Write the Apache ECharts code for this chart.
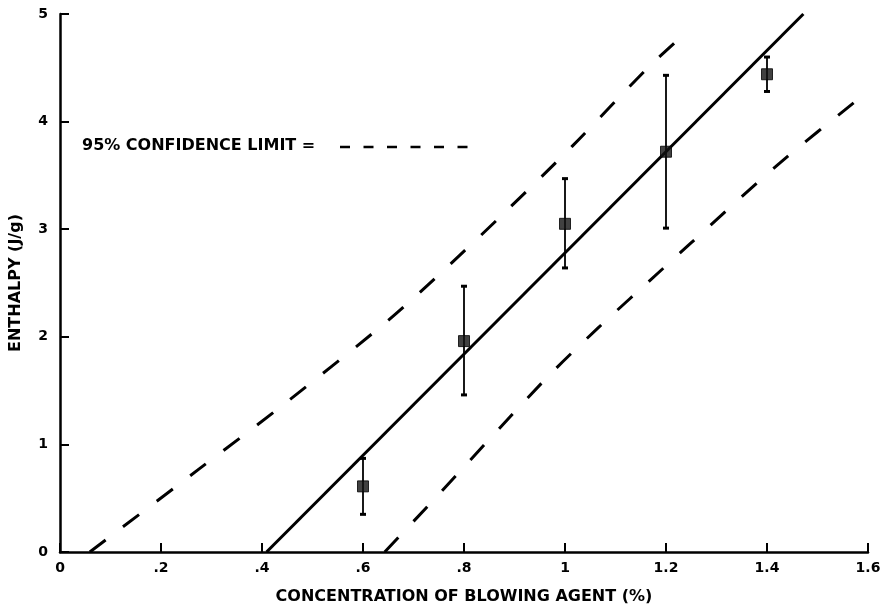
<!DOCTYPE html>
<html>
<head>
<meta charset="utf-8">
<script src="https://cdn.jsdelivr.net/npm/echarts@6/dist/echarts.min.js"></script>
<style>html,body{margin:0;padding:0;background:#fff;}#c{width:885px;height:612px;}</style>
</head>
<body>
<div id="c"></div>
<script>
// ---- data ----
var xTickLabels = ['0', '.2', '.4', '.6', '.8', '1', '1.2', '1.4', '1.6'];
var yTickLabels = ['0', '1', '2', '3', '4', '5'];
var concentration = [0.6, 0.8, 1.0, 1.2, 1.4];
var enthalpy = [0.61, 1.96, 3.05, 3.72, 4.44];
var errLow = [0.35, 1.46, 2.64, 3.01, 4.28];
var errHigh = [0.87, 2.47, 3.47, 4.43, 4.60];
var fitX = [0.409, 1.472];
var fitY = [0, 5];
var upperX = [0.059, 0.275, 0.437, 0.643, 0.742, 0.875, 1.014, 1.163, 1.233];
var upperY = [0, 0.77, 1.35, 2.125, 2.54, 3.13, 3.77, 4.495, 4.80];
var lowerX = [0.643, 0.729, 0.962, 1.065, 1.193, 1.249, 1.424, 1.60];
var lowerY = [0, 0.43, 1.61, 2.08, 2.63, 2.87, 3.61, 4.28];
var legendText = '95% CONFIDENCE LIMIT =';
var xName = 'CONCENTRATION OF BLOWING AGENT (%)';
var yName = 'ENTHALPY (J/g)';

function zip(a, b) { return a.map(function (v, i) { return [v, b[i]]; }); }

var FONT = 'DejaVu Sans';
var chart = echarts.init(document.getElementById('c'), null, { renderer: 'canvas' });
var option = {
  backgroundColor: '#fff',
  animation: false,
  grid: { left: 60, right: 17, top: 14, bottom: 60, containLabel: false },
  xAxis: {
    type: 'value', min: 0, max: 1.6, interval: 0.2,
    name: xName, nameLocation: 'middle', nameGap: 37,
    nameTextStyle: { fontFamily: FONT, fontWeight: 'bold', fontSize: 16, color: '#000' },
    axisLine: { lineStyle: { color: '#000', width: 2.5 } },
    axisTick: { inside: true, length: 9, lineStyle: { color: '#000', width: 2 } },
    axisLabel: {
      margin: 9, color: '#000', fontFamily: FONT, fontWeight: 'bold', fontSize: 14,
      formatter: function (v) { return xTickLabels[Math.round(v / 0.2)]; }
    },
    splitLine: { show: false }
  },
  yAxis: {
    type: 'value', min: 0, max: 5, interval: 1,
    name: yName, nameLocation: 'middle', nameGap: 36, nameRotate: 90,
    nameTextStyle: { fontFamily: FONT, fontWeight: 'bold', fontSize: 16, color: '#000' },
    axisLine: { show: true, lineStyle: { color: '#000', width: 2.5 } },
    axisTick: { show: true, inside: true, length: 9, lineStyle: { color: '#000', width: 2 } },
    axisLabel: {
      margin: 12, color: '#000', fontFamily: FONT, fontWeight: 'bold', fontSize: 14,
      formatter: function (v) { return yTickLabels[Math.round(v)]; }
    },
    splitLine: { show: false }
  },
  series: [
    {
      type: 'line', data: zip(fitX, fitY), symbol: 'none',
      lineStyle: { color: '#000', width: 3 }, z: 3
    },
    {
      type: 'line', data: zip(upperX, upperY), symbol: 'none', smooth: 0.3,
      lineStyle: { color: '#000', width: 3, type: [20, 22] }, z: 3
    },
    {
      type: 'line', data: zip(lowerX, lowerY), symbol: 'none', smooth: 0.3,
      lineStyle: { color: '#000', width: 3, type: [20, 22] }, z: 3
    },
    {
      type: 'custom',
      data: concentration.map(function (x, i) { return [x, errLow[i], errHigh[i]]; }),
      renderItem: function (params, api) {
        var lo = api.coord([api.value(0), api.value(1)]);
        var hi = api.coord([api.value(0), api.value(2)]);
        var w = 3;
        var st = { stroke: '#000', lineWidth: 1.8 };
        var cap = { stroke: '#000', lineWidth: 3 };
        return {
          type: 'group',
          children: [
            { type: 'line', shape: { x1: lo[0], y1: lo[1], x2: hi[0], y2: hi[1] }, style: st },
            { type: 'line', shape: { x1: lo[0] - w, y1: lo[1], x2: lo[0] + w, y2: lo[1] }, style: cap },
            { type: 'line', shape: { x1: hi[0] - w, y1: hi[1], x2: hi[0] + w, y2: hi[1] }, style: cap }
          ]
        };
      },
      z: 4
    },
    {
      type: 'scatter', data: zip(concentration, enthalpy),
      symbol: 'rect', symbolSize: 11,
      itemStyle: { color: '#111', borderColor: '#000', borderWidth: 1 }, z: 5
    }
  ],
  graphic: [
    {
      type: 'text', left: 82, top: 138,
      style: { text: legendText, font: 'bold 16px "DejaVu Sans"', fill: '#000' }
    },
    {
      type: 'line', shape: { x1: 340, y1: 147, x2: 469, y2: 147 },
      style: { stroke: '#000', lineWidth: 2.5, lineDash: [10, 13.5] }
    }
  ]
};
chart.setOption(option);
</script>
</body>
</html>
